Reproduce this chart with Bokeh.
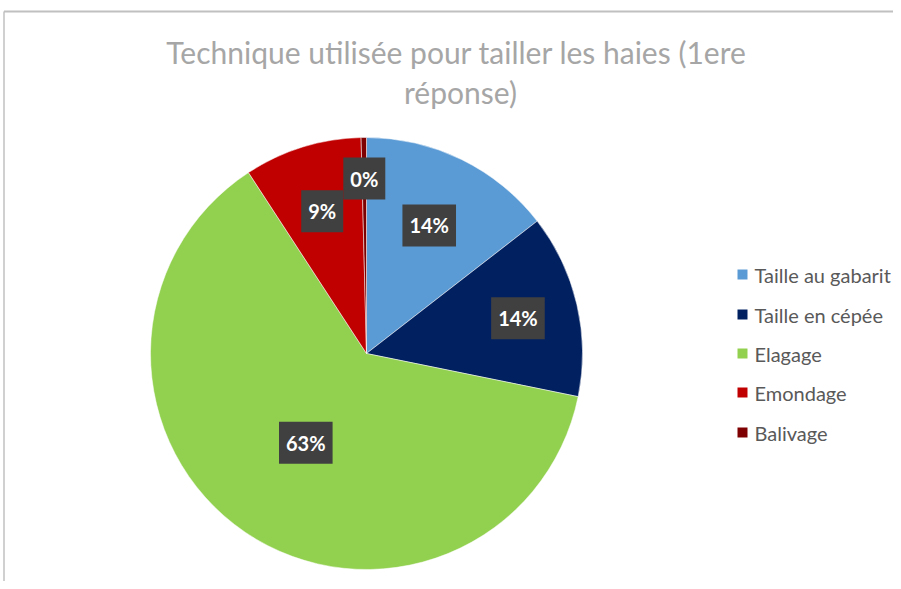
import math
from bokeh.plotting import figure
from bokeh.models import Range1d, Label, ColumnDataSource
from bokeh.core.properties import value
from bokeh.embed import file_html
from bokeh.resources import INLINE

title_lines = ["Technique  utilisée pour tailler les haies (1ere", "réponse)"]
categories = ["Taille au gabarit", "Taille en cépée", "Elagage", "Emondage", "Balivage"]
shares = [14.5, 13.7, 62.6, 8.8, 0.4]
pct_labels = ["14%", "14%", "63%", "9%", "0%"]
colors = ["#5B9BD5", "#002060", "#92D050", "#C00000", "#7F0000"]
label_radius_frac = [0.66, 0.72, 0.50, 0.69, 0.81]

W, H = 893, 581
p = figure(width=W, height=H, output_backend="svg", toolbar_location=None,
           x_range=Range1d(0, W), y_range=Range1d(-H, 0),
           x_axis_type=None, y_axis_type=None, min_border=0)
p.grid.visible = False
p.outline_line_color = None
p.background_fill_color = "white"
p.border_fill_color = "white"

cx, cy, R = 366, -353, 216
total = sum(shares)
starts, ends, mids = [], [], []
cum = 0.0
for s in shares:
    a0 = math.pi / 2 - 2 * math.pi * cum / total
    cum += s
    a1 = math.pi / 2 - 2 * math.pi * cum / total
    starts.append(a0)
    ends.append(a1)
    mids.append((a0 + a1) / 2)

src = ColumnDataSource(dict(start=starts, end=ends, color=colors, cat=categories))
p.wedge(x=cx, y=cy, radius=R, start_angle="start", end_angle="end", direction="clock",
        fill_color="color", line_color="white", line_width=0.5, source=src)

# data labels
for lab, m, f in zip(pct_labels, mids, label_radius_frac):
    lx = cx + R * f * math.cos(m)
    ly = cy + R * f * math.sin(m)
    shadow = Label(x=lx, y=ly, text=lab, x_offset=3, y_offset=-3,
                   text_font="Lato", text_font_size="20px", text_font_style="bold",
                   text_align="center", text_baseline="middle", text_alpha=0,
                   background_fill_color="black", background_fill_alpha=0.22, padding=(7, 9))
    p.add_layout(shadow)
    lbl = Label(x=lx, y=ly, text=lab,
                text_font="Lato", text_font_size="20px", text_font_style="bold",
                text_align="center", text_baseline="middle", text_color="white",
                background_fill_color="#404040", background_fill_alpha=1.0, padding=(7, 9))
    p.add_layout(lbl)

# title
for i, t in enumerate(title_lines):
    p.add_layout(Label(x=460, y=-(51 + 40 * i), text=t, text_font="Lato",
                       text_font_size="30px", text_color="#A6A6A6",
                       text_align="center", text_baseline="middle"))

# legend
leg_y = [-274, -314, -353, -392, -432]
p.scatter(x=[742] * 5, y=leg_y, marker="square", size=10, fill_color=colors, line_color=None)
p.text(x=[754] * 5, y=leg_y, text=categories, text_font=value("Lato"), text_font_size="20px",
       text_color="#595959", text_baseline="middle", text_align="left")

# chart frame
p.segment(x0=[3.5, 3.5], y0=[-11, -11], x1=[W, 3.5], y1=[-11, -H],
          line_color="#C0C0C0", line_width=[2, 1.5])

open("out.html", "w").write(file_html(p, INLINE))
